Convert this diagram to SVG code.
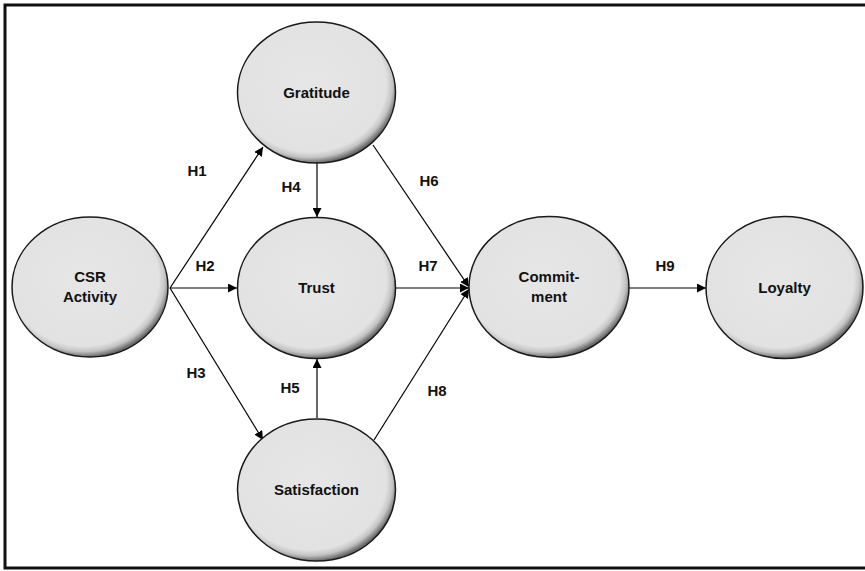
<svg xmlns="http://www.w3.org/2000/svg" width="865" height="571" viewBox="0 0 865 571">
<defs>
<radialGradient id="g" cx="0.46" cy="0.44" r="0.56">
<stop offset="0" stop-color="#e6e6e6"/>
<stop offset="0.86" stop-color="#e2e2e2"/>
<stop offset="0.93" stop-color="#c4c4c4"/>
<stop offset="1" stop-color="#6a6a6a"/>
</radialGradient>
<marker id="a" viewBox="0 0 10 10" refX="10" refY="5" markerWidth="9" markerHeight="9" markerUnits="userSpaceOnUse" orient="auto">
<path d="M0,0 L10,5 L0,10 z" fill="#000"/>
</marker>
<style>
.n ellipse{fill:url(#g);stroke:#1a1a1a;stroke-width:1.5}
.n text,.l text{font-family:"Liberation Sans",Arial,sans-serif;font-weight:bold;font-size:15px;fill:#111;text-anchor:middle}
.c line{stroke:#000;stroke-width:1.2;marker-end:url(#a)}
</style>
</defs>
<rect x="0" y="0" width="865" height="571" fill="#fff"/>
<path d="M868,5 H5 V568 H868" fill="none" stroke="#111" stroke-width="3"/>
<g class="c" id="connectors">
<line x1="170" y1="288" x2="263" y2="147"/>
<line x1="170" y1="288" x2="237" y2="288"/>
<line x1="170" y1="288" x2="263" y2="440"/>
<line x1="317" y1="163" x2="317" y2="217"/>
<line x1="317" y1="418" x2="317" y2="359"/>
<line x1="373" y1="145" x2="469" y2="287"/>
<line x1="396" y1="288" x2="469" y2="288"/>
<line x1="374" y1="440" x2="469" y2="289"/>
<line x1="629" y1="288" x2="706" y2="288"/>
</g>
<g class="l" id="labels">
<text x="197" y="176">H1</text>
<text x="291" y="192">H4</text>
<text x="429" y="186">H6</text>
<text x="205" y="271">H2</text>
<text x="428" y="271">H7</text>
<text x="665" y="271">H9</text>
<text x="196" y="378">H3</text>
<text x="290" y="393">H5</text>
<text x="437" y="396">H8</text>
</g>
<g class="n" id="csr"><ellipse cx="90" cy="287" rx="78" ry="70"/><text x="90" y="282">CSR</text><text x="90" y="302">Activity</text></g>
<g class="n" id="gratitude"><ellipse cx="316.5" cy="92.5" rx="79" ry="70.5"/><text x="316.5" y="98">Gratitude</text></g>
<g class="n" id="trust"><ellipse cx="316.5" cy="288" rx="79" ry="70.5"/><text x="316.5" y="293">Trust</text></g>
<g class="n" id="satisfaction"><ellipse cx="316.5" cy="490" rx="79" ry="71"/><text x="316.5" y="495">Satisfaction</text></g>
<g class="n" id="commitment"><ellipse cx="549" cy="287" rx="80" ry="70.5"/><text x="549" y="282">Commit-</text><text x="549" y="302">ment</text></g>
<g class="n" id="loyalty"><ellipse cx="784.5" cy="287.5" rx="78.5" ry="71"/><text x="784.5" y="293">Loyalty</text></g>
</svg>
